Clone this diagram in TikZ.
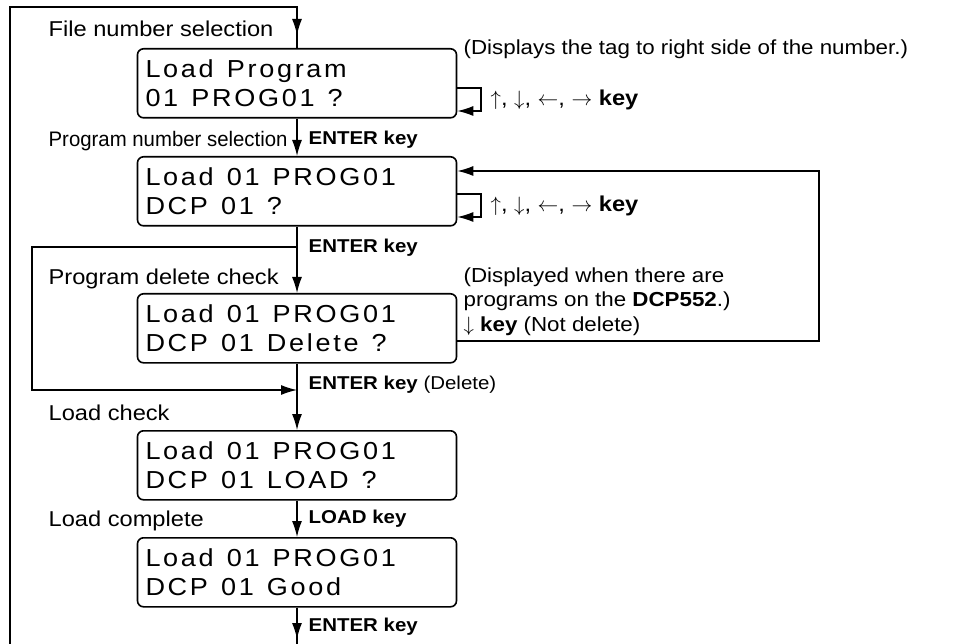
\documentclass[tikz,border=0pt]{standalone}
\usepackage{fontspec}
\setmainfont{Liberation Sans}[FakeStretch=1.1]
\newfontfamily\lcdfont{Liberation Sans}[FakeStretch=1.1,LetterSpace=11]
\newfontfamily\narrowfont{Liberation Sans}[FakeStretch=0.97]
\newcommand\lcdgap{\kern 13pt\relax}
\usetikzlibrary{arrows.meta}
\begin{document}
\begin{tikzpicture}[x=1pt,y=-1pt,line width=1.3pt,
  lcd/.style={draw,line width=1.6pt,rounded corners=6pt,minimum width=319pt,minimum height=69pt,
    anchor=north,inner xsep=8pt,text width=303pt,align=left,
    font=\lcdfont\fontsize{24.6}{29}\selectfont},
  lbl/.style={anchor=base west,inner sep=0pt,font=\fontsize{21.5}{24}\selectfont},
  note/.style={anchor=base west,inner sep=0pt,font=\fontsize{20.3}{24}\selectfont},
  keylbl/.style={anchor=base west,inner sep=0pt,font=\bfseries\fontsize{18.6}{22}\selectfont},
  arr/.style={-{Latex[length=16pt,width=10pt]}}]
\useasboundingbox (0,0) rectangle (961,644);

% display boxes
\node[lcd] (b1) at (297,48)  {Load\lcdgap Program\\01\lcdgap PROG01\lcdgap ?};
\node[lcd] (b2) at (297,156) {Load\lcdgap 01\lcdgap PROG01\\DCP\lcdgap 01\lcdgap ?};
\node[lcd] (b3) at (297,293) {Load\lcdgap 01\lcdgap PROG01\\DCP\lcdgap 01\lcdgap Delete\lcdgap ?};
\node[lcd] (b4) at (297,430) {Load\lcdgap 01\lcdgap PROG01\\DCP\lcdgap 01\lcdgap LOAD\lcdgap ?};
\node[lcd] (b5) at (297,537) {Load\lcdgap 01\lcdgap PROG01\\DCP\lcdgap 01\lcdgap Good};

% coordinates
\coordinate (tl) at (10,7);
\coordinate (tr) at (297,7);
\coordinate (bl) at (10,644);
\coordinate (bend) at (297,644);
\coordinate (tip1) at (297,35);
\coordinate (tip5) at (297,639);
\coordinate (br1) at (297,247);
\coordinate (br2) at (32,247);
\coordinate (br3) at (32,390);
\coordinate (br4) at (297,390);
\coordinate (s1a) at (481,88);
\coordinate (s1b) at (481,111);
\coordinate (s2a) at (481,194);
\coordinate (s2b) at (481,217);
\coordinate (r1) at (819,341);
\coordinate (r2) at (819,171);

% connectors
\draw (bl) -- (tl) -- (tr) -- (b1.north);
\draw[arr] (tr) -- (tip1);
\draw[arr] (b1.south) -- (b2.north);
\draw[arr] (b2.south) -- (b3.north);
\draw[arr] (br1) -- (br2) -- (br3) -- (br4);
\draw[arr] (b3.south) -- (b4.north);
\draw[arr] (b4.south) -- (b5.north);
\draw (b5.south) -- (bend);
\draw[arr] (b5.south) -- (tip5);
\draw[arr] (b1.east |- s1a) -- (s1a) -- (s1b) -- (b1.east |- s1b);
\draw[arr] (b2.east |- s2a) -- (s2a) -- (s2b) -- (b2.east |- s2b);
\draw[arr] (b3.east |- r1) -- (r1) -- (r2) -- (b2.east |- r2);

% labels
\node[lbl] (l1) at (48,37) {File number selection};
\node[lbl,font=\narrowfont\fontsize{21}{24}\selectfont] (l2) at (48,147) {Program number selection};
\node[lbl] (l3) at (48,285) {Program delete check};
\node[lbl] (l4) at (48,420) {Load check};
\node[lbl] (l5) at (48,526) {Load complete};
\node[keylbl] (k1) at (308,145) {ENTER key};
\node[keylbl] (k2) at (308,253) {ENTER key};
\node[keylbl] (k3) at (308,389) {ENTER key \mdseries(Delete)};
\node[keylbl] (k4) at (308,523) {LOAD key};
\node[keylbl] (k5) at (308,631) {ENTER key};
\node[note] (n1) at (463,55) {(Displays the tag to right side of the number.)};
\node[lbl] (n2) at (490,106) {$\uparrow$, $\downarrow$, $\leftarrow$, $\rightarrow$ \textbf{key}};
\node[lbl] (n3) at (490,212) {$\uparrow$, $\downarrow$, $\leftarrow$, $\rightarrow$ \textbf{key}};
\node[note] (n4) at (463,283) {(Displayed when there are};
\node[note] (n5) at (463,307) {programs on the \textbf{DCP552}.)};
\node[note] (n6) at (463,331) {$\downarrow$ \textbf{key} (Not delete)};
\end{tikzpicture}
\end{document}
